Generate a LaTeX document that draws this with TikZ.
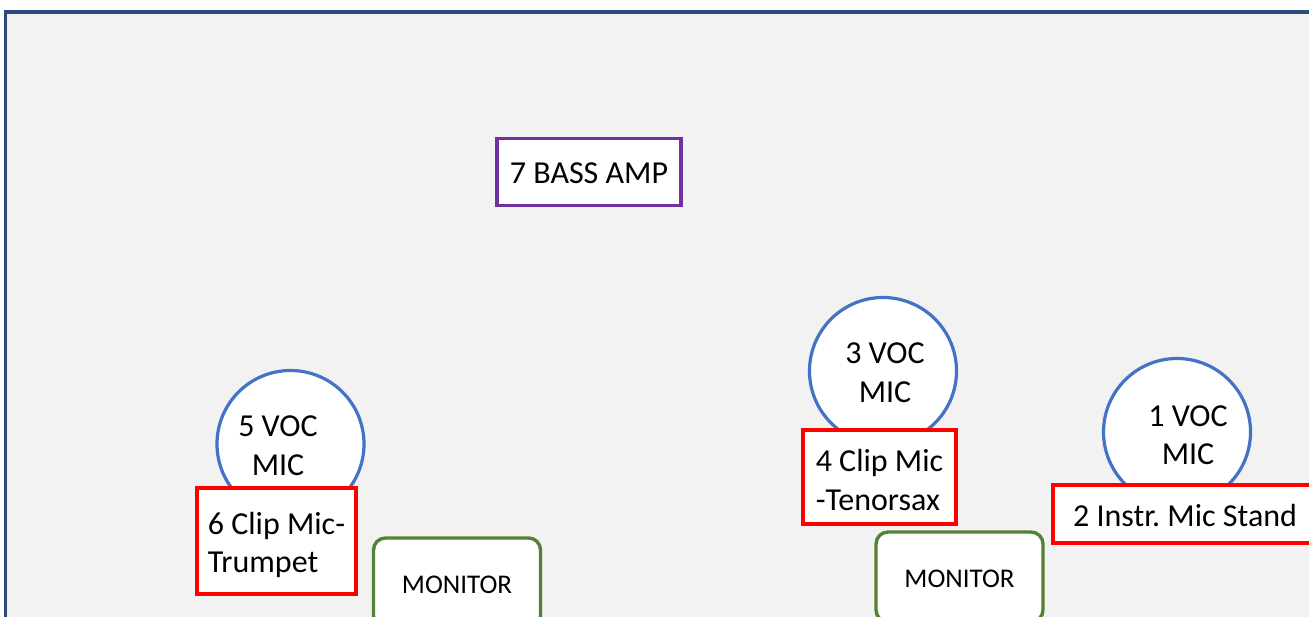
\documentclass[tikz,border=0pt]{standalone}
\usepackage{fontspec}
\setmainfont{Carlito}
\usepackage{xcolor}
\usepackage{tikz}
\usetikzlibrary{positioning}

\definecolor{stageblue}{HTML}{2F4B7C}
\definecolor{micblue}{HTML}{4472C4}
\definecolor{clipred}{HTML}{FF0000}
\definecolor{amppurple}{HTML}{7030A0}
\definecolor{mongreen}{HTML}{548235}
\definecolor{stagegray}{HTML}{F2F2F2}

\tikzset{
  bigtext/.style={font=\fontsize{32}{38.5}\selectfont},
  micball/.style={circle,draw=micblue,line width=3.2pt,fill=white,minimum size=147pt,inner sep=0pt},
  miclabel/.style={bigtext,align=center,inner sep=0pt},
  cliplabel/.style={bigtext,align=left,inner sep=0pt},
  clipbox/.style={rectangle,draw=clipred,line width=3.8pt,fill=white,inner sep=0pt},
  ampbox/.style={rectangle,draw=amppurple,line width=3.4pt,fill=white,bigtext,minimum width=184pt,minimum height=67pt,
    text height=22pt,text depth=0pt},
  monbox/.style={rectangle,rounded corners=12pt,draw=mongreen,line width=3.4pt,fill=white,
    font=\fontsize{27}{32}\selectfont,minimum width=167pt,minimum height=90pt,text height=21pt,text depth=0pt}
}

\begin{document}
\begin{tikzpicture}[x=1pt,y=-1pt]
	\useasboundingbox (0,0) rectangle (1309,616);
	\clip (0,0) rectangle (1309,616);
	% stage
	\filldraw[fill=stagegray,draw=stageblue,line width=3.4pt] (5.5,12) rectangle (1330,640);
	% bass amp
	\node[ampbox] (amp7) at (589,172) {7 BASS AMP};
	% vocal mics
	\foreach \nm/\x/\y in {mic5/290.5/444,mic3/883/371,mic1/1177/432}
	  \node[micball] (\nm) at (\x,\y) {};
	\node[miclabel] (lab5) at (278,445.5) {5 VOC\\MIC};
	\node[miclabel] (lab3) at (885,372.5) {3 VOC\\MIC};
	\node[miclabel] (lab1) at (1188,435) {1 VOC\\MIC};
	% clip mics and stand
	\node[clipbox,minimum width=159pt,minimum height=106pt] (clip6) at (276.5,541) {};
	\node[cliplabel] (lab6) at (276.5,545) {6 Clip Mic-\\Trumpet};
	\node[clipbox,minimum width=153pt,minimum height=94pt] (clip4) at (879.5,477) {};
	\node[cliplabel] (lab4) at (879.5,480) {4 Clip Mic\\-Tenorsax};
	\node[clipbox,bigtext,minimum width=264pt,minimum height=58pt,
	  text height=25pt,text depth=0pt] (stand2) at (1185,514) {2 Instr.\ Mic Stand};
	% monitors
	\foreach \nm/\x/\y in {monL/457/583,monR/959.5/577}
	  \node[monbox] (\nm) at (\x,\y) {MONITOR};
\end{tikzpicture}
\end{document}
